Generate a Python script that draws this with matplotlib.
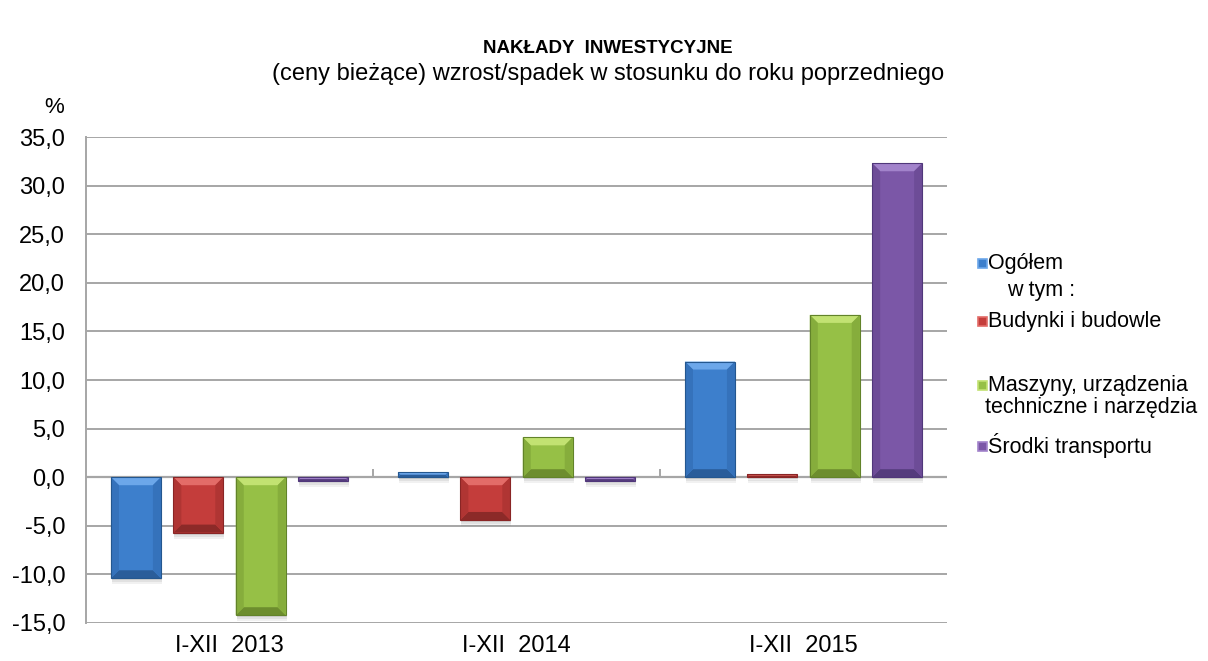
import matplotlib.pyplot as plt
from matplotlib.patches import Rectangle, Polygon
from matplotlib.transforms import IdentityTransform
import numpy as np

plt.rcParams['font.family'] = ['Liberation Sans', 'DejaVu Sans']

# --- data ---
periods = ["I-XII  2013", "I-XII  2014", "I-XII  2015"]
ogolem = [-10.4, 0.5, 11.9]
budynki = [-5.7, -4.4, 0.3]
maszyny = [-14.2, 4.1, 16.7]
transport = [-0.4, -0.4, 32.3]
series = [ogolem, budynki, maszyny, transport]
legend_labels = ["Ogółem", "Budynki i budowle",
                 "Maszyny, urządzenia\ntechniczne i narzędzia", "Środki transportu"]
y_ticks = [-15, -10, -5, 0, 5, 10, 15, 20, 25, 30, 35]

colors = ["#3d7fcc", "#c43d3b", "#96c046", "#7b57a7"]
lights = ["#6ca7ea", "#e36c68", "#c2e272", "#a283cb"]
darks = ["#2a5d9a", "#8c2a28", "#6d8d2e", "#553c7d"]
sides = ["#3572bb", "#b03533", "#86ad3c", "#6d4c97"]
edges = ["#24578f", "#8a2525", "#62832a", "#50377a"]


def bevel(ax, rect, i, depth=8):
    """fake the excel bevel look on one bar (in pixel space)"""
    x, y, w, h = rect.get_x(), rect.get_y(), rect.get_width(), rect.get_height()
    (X0, Ya), (X1, Yb) = ax.transData.transform([(x, y), (x + w, y + h)])
    Y0, Y1 = min(Ya, Yb), max(Ya, Yb)
    d = min(depth, (Y1 - Y0) / 2, (X1 - X0) / 2)
    tr = IdentityTransform()
    # soft shadow under the bar
    for k, a in [(6, 0.08), (4, 0.10), (2, 0.12)]:
        ax.add_patch(Rectangle((X0 + 1, Y0 - k), X1 - X0, Y1 - Y0, transform=tr,
                               facecolor='#555555', alpha=a, linewidth=0, zorder=2.5))
    polys = [
        ([(X0, Y1), (X1, Y1), (X1 - d, Y1 - d), (X0 + d, Y1 - d)], lights[i]),
        ([(X0, Y0), (X1, Y0), (X1 - d, Y0 + d), (X0 + d, Y0 + d)], darks[i]),
        ([(X0, Y0), (X0, Y1), (X0 + d, Y1 - d), (X0 + d, Y0 + d)], sides[i]),
        ([(X1, Y0), (X1, Y1), (X1 - d, Y1 - d), (X1 - d, Y0 + d)], sides[i]),
    ]
    for pts, c in polys:
        ax.add_patch(Polygon(pts, closed=True, transform=tr, facecolor=c,
                             linewidth=0, zorder=3.5))
    ax.add_patch(Rectangle((X0, Y0), X1 - X0, Y1 - Y0, transform=tr, fill=False,
                           edgecolor=edges[i], linewidth=0.8, zorder=3.6))


fig = plt.figure(figsize=(12.08, 6.61), dpi=100)
ax = fig.add_axes([0.0712, 0.0575, 0.7128, 0.7352])
ax.set_xlim(-0.5, len(periods) - 0.5)
ax.set_ylim(-15, 35)

x = np.arange(len(periods))
step = 0.2174
width = 0.174
for i, vals in enumerate(series):
    pos = x + (i - 1.5) * step
    bars = ax.bar(pos, vals, width=width, color=colors[i], linewidth=0, zorder=3)
    for r in bars.patches:
        bevel(ax, r, i)

ax.set_yticks(y_ticks)
ax.set_yticklabels([f"{v:.1f}".replace(".", ",") for v in y_ticks], fontsize=17)
ax.set_xticks(x)
ax.set_xticklabels(periods, fontsize=17)
ax.tick_params(axis='x', length=0, pad=9)
ax.tick_params(axis='y', length=0, pad=15)
ax.grid(axis='y', color='#a6a6a6', linewidth=1.4, zorder=0)
for s in ['top', 'right', 'bottom']:
    ax.spines[s].set_visible(False)
ax.spines['left'].set_color('#a6a6a6')
ax.spines['left'].set_linewidth(1.4)
ax.axhline(0, color='#a6a6a6', linewidth=1.6, zorder=2)
ax.vlines([0.5, 1.5], 0, 0.8, color='#a6a6a6', linewidth=1.4, zorder=2)

fig.text(0.045, 0.838, "%", fontsize=16, ha='center', va='center')
fig.text(0.503, 0.926, "NAKŁADY  INWESTYCYJNE", fontsize=13.5, fontweight='bold',
         ha='center', va='center')
fig.text(0.503, 0.888, "(ceny bieżące) wzrost/spadek w stosunku do roku poprzedniego",
         fontsize=17, ha='center', va='center')

# legend drawn by hand to keep the original spacing
leg_y = [263, 321, 385, 446]
for i, lab in enumerate(legend_labels):
    yy = 1 - leg_y[i] / 661
    fig.patches.append(Rectangle((978 / 1208, yy - 4.5 / 661), 8.5 / 1208, 9 / 661,
                                 transform=fig.transFigure, facecolor=colors[i],
                                 edgecolor=lights[i], linewidth=1.2))
    lines = lab.split("\n")
    fig.text(988 / 1208, yy, lines[0], fontsize=15.5, ha='left', va='center')
    if len(lines) > 1:
        fig.text(985 / 1208, 1 - 407 / 661, lines[1], fontsize=15.5, ha='left', va='center')
fig.text(1007 / 1208, 1 - 290 / 661, "w tym :", fontsize=15.5, ha='left', va='center')

fig.savefig("out.png", dpi=100)
